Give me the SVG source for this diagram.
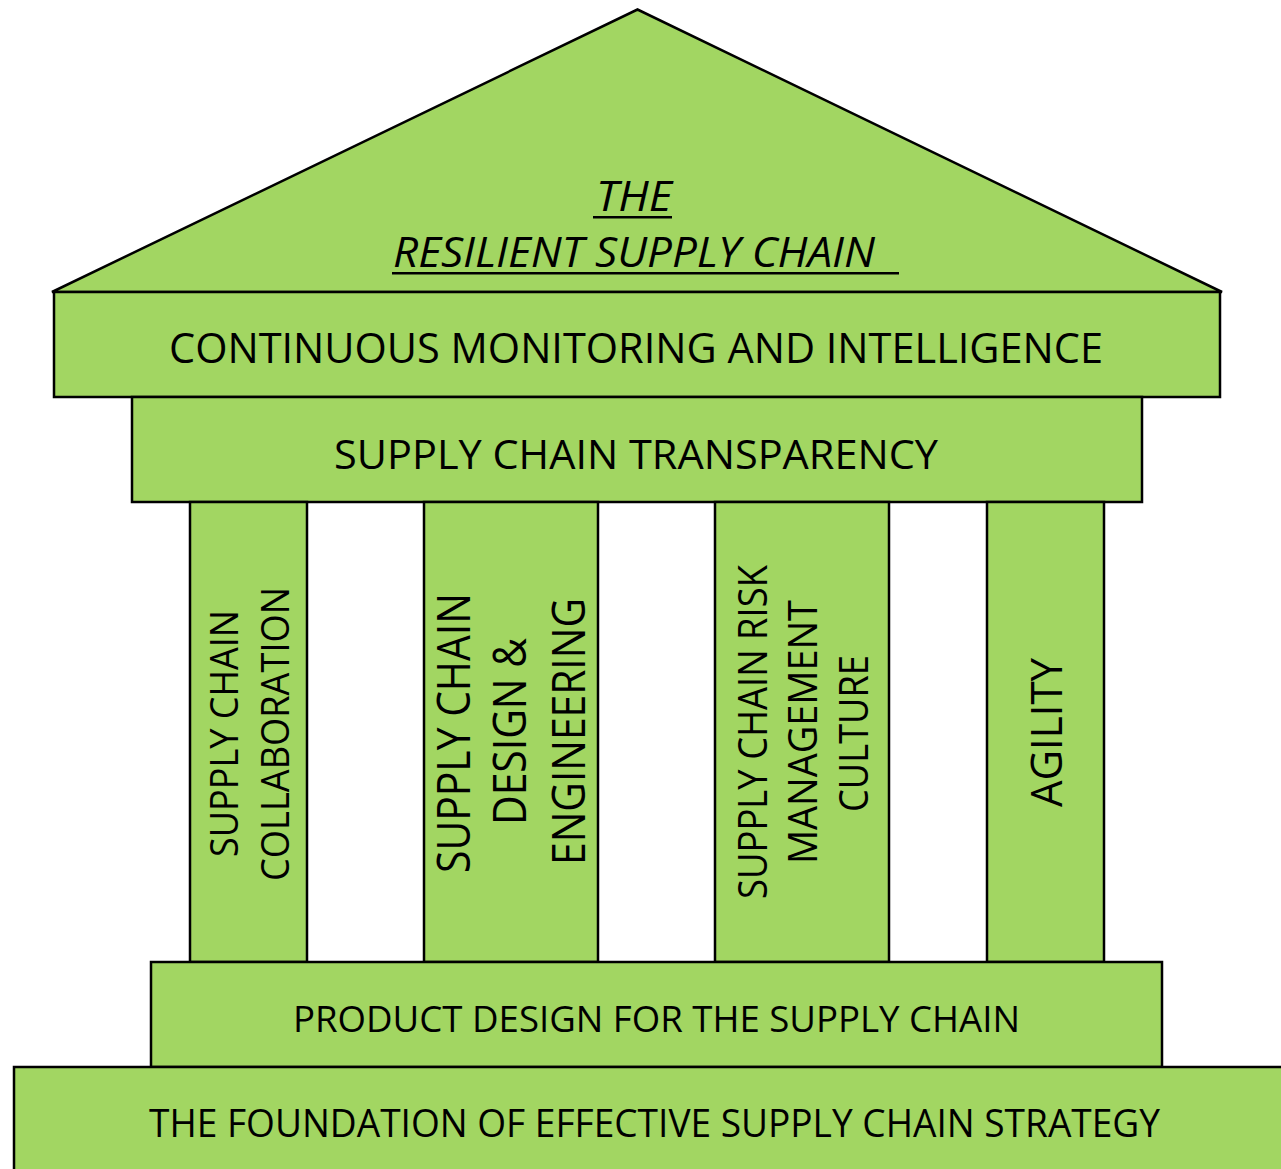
<svg xmlns="http://www.w3.org/2000/svg" width="1281" height="1169" viewBox="0 0 1281 1169">
<style>
.blk{fill:#A2D662;stroke:#000;stroke-width:2.5;stroke-linejoin:miter}
.t{font-family:"Open Sans","Liberation Sans",sans-serif;fill:#000;}
.ul{stroke:#000;stroke-width:2.6}
</style>
<rect width="1281" height="1169" fill="#fff"/>
<g id="roof">
<polygon class="blk" points="52,292 637.5,9.5 1222,292"/>
<text class="t" x="596" y="211" font-size="42" font-style="italic" textLength="76" lengthAdjust="spacingAndGlyphs">THE</text>
<line class="ul" x1="593" y1="217.3" x2="672" y2="217.3"/>
<text class="t" x="393" y="267" font-size="42" font-style="italic" textLength="482" lengthAdjust="spacingAndGlyphs">RESILIENT SUPPLY CHAIN</text>
<line class="ul" x1="392" y1="273.3" x2="899" y2="273.3"/>
</g>
<g id="monitoring">
<rect class="blk" x="54" y="292" width="1166" height="105"/>
<text class="t" x="169" y="363" font-size="41.5" textLength="934" lengthAdjust="spacingAndGlyphs">CONTINUOUS MONITORING AND INTELLIGENCE</text>
</g>
<g id="transparency">
<rect class="blk" x="132" y="397" width="1010" height="105"/>
<text class="t" x="334" y="468.5" font-size="41" textLength="604" lengthAdjust="spacingAndGlyphs">SUPPLY CHAIN TRANSPARENCY</text>
</g>
<g id="pillar-collaboration">
<rect class="blk" x="190" y="502" width="117" height="460"/>
<text class="t" font-size="39" text-anchor="middle" transform="translate(237.7,733.5) rotate(-90)" textLength="247" lengthAdjust="spacingAndGlyphs">SUPPLY CHAIN</text>
<text class="t" font-size="39" text-anchor="middle" transform="translate(289,734) rotate(-90)" textLength="294" lengthAdjust="spacingAndGlyphs">COLLABORATION</text>
</g>
<g id="pillar-design">
<rect class="blk" x="424" y="502" width="174" height="460"/>
<text class="t" font-size="45" text-anchor="middle" transform="translate(470,733) rotate(-90)" textLength="280" lengthAdjust="spacingAndGlyphs">SUPPLY CHAIN</text>
<text class="t" font-size="45" text-anchor="middle" transform="translate(526,731.5) rotate(-90)" textLength="187" lengthAdjust="spacingAndGlyphs">DESIGN &amp;</text>
<text class="t" font-size="45" text-anchor="middle" transform="translate(585,731.5) rotate(-90)" textLength="267" lengthAdjust="spacingAndGlyphs">ENGINEERING</text>
</g>
<g id="pillar-risk">
<rect class="blk" x="715" y="502" width="174" height="460"/>
<text class="t" font-size="40" text-anchor="middle" transform="translate(766.7,732) rotate(-90)" textLength="334" lengthAdjust="spacingAndGlyphs">SUPPLY CHAIN RISK</text>
<text class="t" font-size="40" text-anchor="middle" transform="translate(816.7,732) rotate(-90)" textLength="264" lengthAdjust="spacingAndGlyphs">MANAGEMENT</text>
<text class="t" font-size="40" text-anchor="middle" transform="translate(868.3,733.5) rotate(-90)" textLength="157" lengthAdjust="spacingAndGlyphs">CULTURE</text>
</g>
<g id="pillar-agility">
<rect class="blk" x="987" y="502" width="117" height="460"/>
<text class="t" font-size="44" text-anchor="middle" transform="translate(1061.7,732.5) rotate(-90)" textLength="149" lengthAdjust="spacingAndGlyphs">AGILITY</text>
</g>
<g id="product-design">
<rect class="blk" x="151" y="962" width="1011" height="105"/>
<text class="t" x="293" y="1032" font-size="37" textLength="727" lengthAdjust="spacingAndGlyphs">PRODUCT DESIGN FOR THE SUPPLY CHAIN</text>
</g>
<g id="foundation">
<rect class="blk" x="14" y="1067" width="1300" height="130"/>
<text class="t" x="149" y="1137" font-size="38" textLength="1011" lengthAdjust="spacingAndGlyphs">THE FOUNDATION OF EFFECTIVE SUPPLY CHAIN STRATEGY</text>
</g>
<g id="connectors"></g>
</svg>
